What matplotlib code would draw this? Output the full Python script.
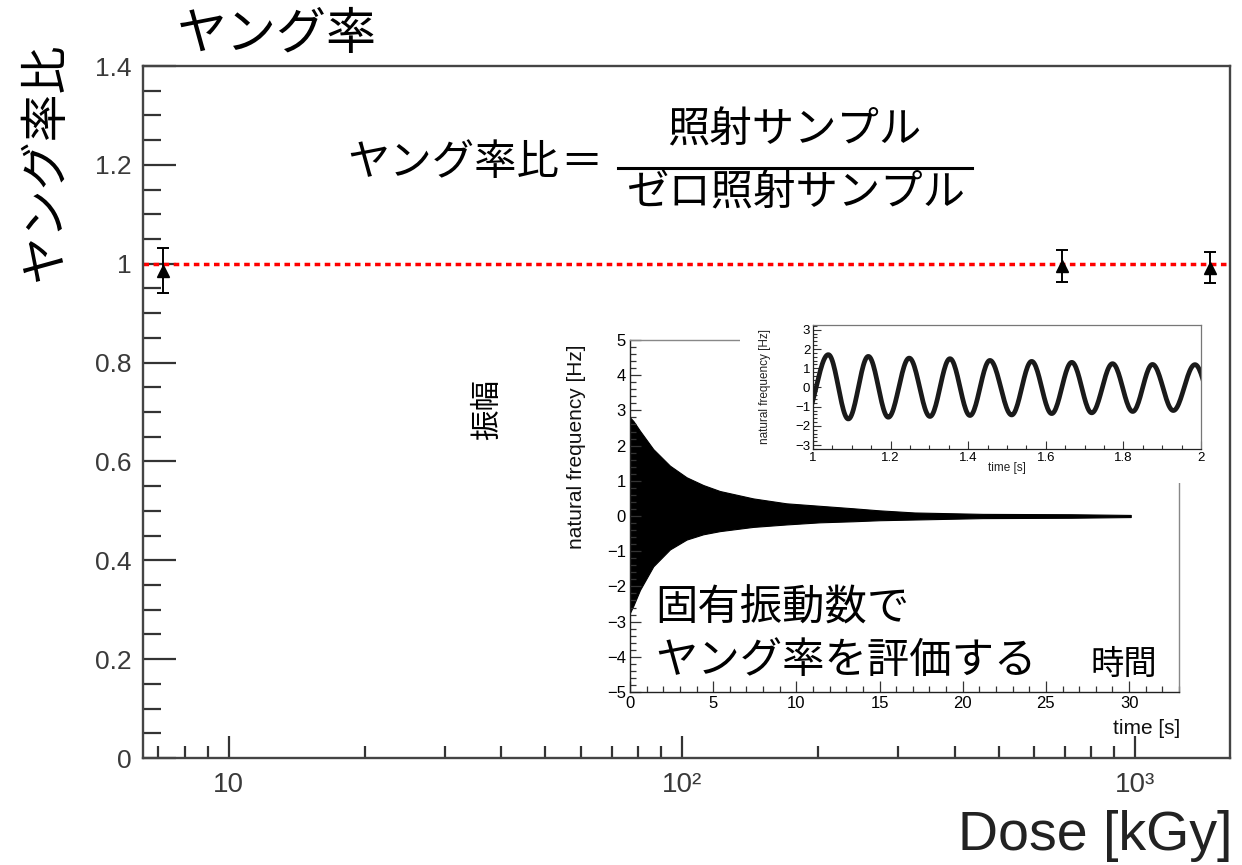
import numpy as np
import matplotlib
matplotlib.use("Agg")
import matplotlib.pyplot as plt
from matplotlib.patches import Rectangle
from matplotlib.lines import Line2D
from matplotlib.ticker import FixedLocator, MultipleLocator, NullFormatter, LogLocator

plt.rcParams['font.family'] = ['Liberation Sans', 'Noto Sans CJK JP']
plt.rcParams['axes.unicode_minus'] = True
JP = ['Noto Sans CJK JP', 'DejaVu Sans']

# ---------------- main chart data ----------------
dose_kgy = [7.17, 689.0, 1464.0]
young_ratio = [0.986, 0.995, 0.992]
ratio_err = [0.045, 0.033, 0.031]
reference_ratio = 1.0

y_ticks = [0, 0.2, 0.4, 0.6, 0.8, 1.0, 1.2, 1.4]
y_ticklabels = ['0', '0.2', '0.4', '0.6', '0.8', '1', '1.2', '1.4']
x_ticks = [10, 100, 1000]
x_ticklabels = ['10', '10²', '10³']

# ---------------- inset 1: decaying signal envelope ----------------
env_time = [0, 0.2, 0.6, 1.4, 2.4, 3.4, 4.4, 5.4, 7.4, 9.4, 11.4, 13.4, 15.0, 17.1, 21.2, 26.5, 30.1]
env_upper = [2.8, 2.7, 2.42, 1.9, 1.43, 1.1, 0.88, 0.71, 0.5, 0.36, 0.29, 0.22, 0.16, 0.1, 0.06, 0.05, 0.03]
env_lower = [-2.75, -2.55, -2.1, -1.43, -0.95, -0.67, -0.52, -0.43, -0.31, -0.24, -0.18, -0.15,
             -0.12, -0.1, -0.06, -0.05, -0.03]
inset_xticks = [0, 5, 10, 15, 20, 25, 30]
inset_yticks = [-5, -4, -3, -2, -1, 0, 1, 2, 3, 4, 5]

# ---------------- inset 2: zoom on 1-2 s, extrema ----------------
zoom_time = [0.977, 1.0395, 1.0910, 1.1426, 1.1941, 1.248, 1.3015, 1.353, 1.4046, 1.456,
             1.5121, 1.5636, 1.6152, 1.667, 1.7183, 1.772, 1.8240, 1.875, 1.9286, 1.9845, 2.037]
zoom_value = [-1.66, 1.71, -1.64, 1.62, -1.55, 1.53, -1.51, 1.50, -1.46, 1.41,
              -1.43, 1.36, -1.36, 1.31, -1.32, 1.24, -1.25, 1.20, -1.20, 1.19, -1.17]
zoom_xticks = [1, 1.2, 1.4, 1.6, 1.8, 2]
zoom_xticklabels = ['1', '1.2', '1.4', '1.6', '1.8', '2']
zoom_yticks = [-3, -2, -1, 0, 1, 2, 3]

W, H = 1242, 865
fig = plt.figure(figsize=(W / 100, H / 100), dpi=100)
fig.patch.set_facecolor('white')


def fx(px):
    return px / W


def fy(py):
    return (H - py) / H


# ---------------- main axes ----------------
ax = fig.add_axes([fx(143), fy(758), fx(1230) - fx(143), fy(66) - fy(758)])
ax.set_xscale('log')
ax.set_xlim(6.47, 1621)
ax.set_ylim(0, 1.4)
ax.axhline(reference_ratio, color='red', lw=2.5, dashes=(1.6, 1.3), zorder=2)
ax.errorbar(dose_kgy, young_ratio, yerr=ratio_err, fmt='^', color='black', ms=9,
            capsize=4.5, elinewidth=1.4, capthick=1.4, zorder=3)

ax.yaxis.set_major_locator(FixedLocator(y_ticks))
ax.set_yticklabels(y_ticklabels)
ax.yaxis.set_minor_locator(MultipleLocator(0.05))
ax.xaxis.set_major_locator(FixedLocator(x_ticks))
ax.set_xticklabels(x_ticklabels)
ax.xaxis.set_minor_locator(LogLocator(base=10, subs=range(2, 10)))
ax.xaxis.set_minor_formatter(NullFormatter())

ax.tick_params(axis='y', which='major', direction='in', length=24, width=1.6, color='#333',
               labelsize=19, labelcolor='#3a3a3a', pad=8)
ax.tick_params(axis='y', which='minor', direction='in', length=13, width=1.6, color='#333')
ax.tick_params(axis='x', which='major', direction='in', length=16, width=1.6, color='#333',
               labelsize=20, labelcolor='#3a3a3a', pad=10)
ax.tick_params(axis='x', which='minor', direction='in', length=9, width=1.6, color='#333')
for s in ax.spines.values():
    s.set_linewidth(1.7)
    s.set_color('#444')

# ---------------- inset 1 ----------------
ax1 = fig.add_axes([fx(630), fy(692), fx(1179) - fx(630), fy(340) - fy(692)], zorder=2)
ax1.fill_between(env_time, env_lower, env_upper, color='black', lw=0.8, edgecolor='black')
ax1.set_xlim(0, 33)
ax1.set_ylim(-5, 5)
ax1.set_xticks(inset_xticks)
ax1.set_yticks(inset_yticks)
ax1.xaxis.set_minor_locator(MultipleLocator(1))
ax1.yaxis.set_minor_locator(MultipleLocator(0.2))
ax1.tick_params(which='major', direction='in', length=8, width=0.9, color='#333',
                labelsize=12, pad=3)
ax1.tick_params(which='minor', direction='in', length=4, width=0.9, color='#333')
ax1.spines['left'].set_color('#222')
ax1.spines['bottom'].set_color('#222')
ax1.spines['top'].set_color('#888')
ax1.spines['right'].set_color('#888')
for s in ax1.spines.values():
    s.set_linewidth(1.0)
fig.text(fx(577), fy(447), 'natural frequency [Hz]', rotation=90, ha='center', va='center',
         fontsize=15, color='#111')
fig.text(fx(1180), fy(729), 'time [s]', ha='right', va='center', fontsize=15, color='#111')

# white background of zoomed inset
fig.add_artist(Rectangle((fx(740), fy(483)), fx(1213) - fx(740), fy(306) - fy(483),
                         transform=fig.transFigure, facecolor='white', edgecolor='none',
                         zorder=3))

# ---------------- inset 2 ----------------
ax2 = fig.add_axes([fx(813), fy(449), fx(1201) - fx(813), fy(325) - fy(449)], zorder=4)
seg_t, seg_v = [], []
for i in range(len(zoom_time) - 1):
    t0, t1 = zoom_time[i], zoom_time[i + 1]
    v0, v1 = zoom_value[i], zoom_value[i + 1]
    s = np.linspace(0, 1, 25)
    seg_t.extend(t0 + (t1 - t0) * s)
    seg_v.extend(v0 + (v1 - v0) * (1 - np.cos(np.pi * s)) / 2)
ax2.plot(seg_t, seg_v, color='#1a1a1a', lw=3.4, solid_capstyle='butt')
ax2.set_xlim(1, 2)
ax2.set_ylim(-3.2, 3.25)
ax2.set_xticks(zoom_xticks)
ax2.set_xticklabels(zoom_xticklabels)
ax2.set_yticks(zoom_yticks)
ax2.xaxis.set_minor_locator(MultipleLocator(0.05))
ax2.yaxis.set_minor_locator(MultipleLocator(0.2))
ax2.tick_params(which='major', direction='in', length=6, width=0.8, color='#333',
                labelsize=9.5, pad=2)
ax2.tick_params(which='minor', direction='in', length=3, width=0.8, color='#333')
ax2.spines['left'].set_color('#222')
ax2.spines['bottom'].set_color('#222')
ax2.spines['top'].set_color('#777')
ax2.spines['right'].set_color('#777')
for s in ax2.spines.values():
    s.set_linewidth(0.9)
fig.text(fx(765), fy(386), 'natural frequency [Hz]', rotation=90, ha='center', va='center',
         fontsize=8.5, color='#222', zorder=5)
fig.text(fx(1007), fy(468), 'time [s]', ha='center', va='center', fontsize=8.5, color='#222',
         zorder=5)

# ---------------- texts ----------------
fig.text(fx(177), fy(35), 'ヤング率', family=JP, fontsize=36, ha='left', va='center')
fig.text(fx(45), fy(161), 'ヤング率比', family=JP, fontsize=34.5, rotation=90,
         ha='center', va='center')
fig.text(fx(1232), fy(836), 'Dose [kGy]', fontsize=40, ha='right', va='center', color='#222')

fig.text(fx(347), fy(163), 'ヤング率比', family=JP, fontsize=30.5, ha='left', va='center')
fig.text(fx(581), fy(163), '＝', family=JP, fontsize=30.5, ha='center', va='center')
fig.text(fx(794), fy(130), '照射サンプル', family=JP, fontsize=30.5, ha='center', va='center')
fig.text(fx(796), fy(193), 'ゼロ照射サンプル', family=JP, fontsize=30.5, ha='center', va='center')
fig.add_artist(Line2D([fx(618), fx(972)], [fy(168), fy(168)], color='black', lw=2.2,
                      transform=fig.transFigure))

fig.text(fx(488), fy(410), '振幅', family=JP, fontsize=22, rotation=90, ha='center', va='center')

fig.text(fx(655), fy(609), '固有振動数で', family=JP, fontsize=30.5, ha='left', va='center',
         zorder=6)
fig.text(fx(655), fy(661), 'ヤング率を評価する', family=JP, fontsize=30.5, ha='left', va='center',
         zorder=6)
fig.text(fx(1090), fy(664), '時間', family=JP, fontsize=24, ha='left', va='center', zorder=6)

fig.savefig('out.png', dpi=100, facecolor='white')
